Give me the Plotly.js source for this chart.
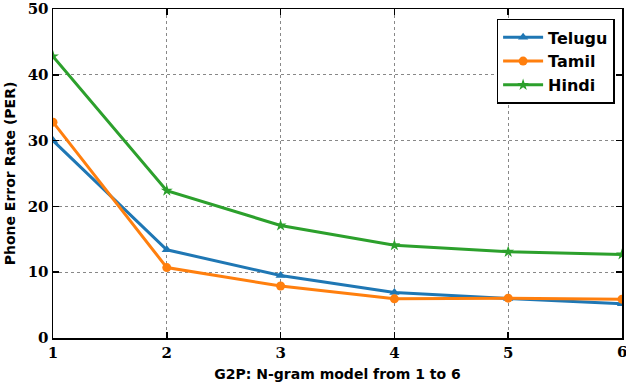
<!DOCTYPE html>
<html>
<head>
<meta charset="utf-8">
<script src="https://cdn.plot.ly/plotly-3.0.1.min.js"></script>
<style>
  body { margin: 0; background: #fff; }
  #chart { width: 626px; height: 382px; }
</style>
</head>
<body>
<div id="chart"></div>
<script>
const ngram = [1, 2, 3, 4, 5, 6];
const telugu = [30.0, 13.4, 9.5, 6.9, 6.0, 5.2];
const tamil = [32.8, 10.7, 7.9, 5.95, 6.05, 5.9];
const hindi = [42.8, 22.4, 17.1, 14.1, 13.1, 12.7];

function series(name, ys, color, symbol) {
    return {
        x: ngram, y: ys, name: name, mode: 'lines+markers',
        line: {color: color, width: 3},
        marker: {symbol: symbol, size: 9, color: color}
    };
}

const traces = [
    series('Telugu', telugu, '#1f77b4', 'triangle-up'),
    series('Tamil', tamil, '#ff7f0e', 'circle'),
    series('Hindi', hindi, '#2ca02c', 'star')
];

const tickFont = {family: 'DejaVu Serif', size: 15, color: '#000', weight: 'bold'};
const titleFont = {family: 'DejaVu Sans', size: 14, color: '#000', weight: 'bold'};

const axisBase = {
    showline: true, mirror: 'ticks', linecolor: '#000', linewidth: 1.5,
    ticks: 'inside', ticklen: 6, tickcolor: '#000', tickwidth: 1.5,
    showgrid: true, gridcolor: '#888', griddash: '3px,3px', gridwidth: 1,
    zeroline: false,
    tickfont: tickFont
};

const last = ngram.length - 1;

const layout = {
    width: 626, height: 382,
    margin: {l: 53, r: 4, t: 9, b: 44},
    paper_bgcolor: '#fff', plot_bgcolor: '#fff',
    showlegend: true,
    legend: {
        x: 0.987, y: 0.97, xanchor: 'right', yanchor: 'top',
        bordercolor: '#000', borderwidth: 1.5, bgcolor: '#fff',
        font: {family: 'DejaVu Sans', size: 16, color: '#000', weight: 'bold'},
        itemwidth: 40
    },
    xaxis: Object.assign({}, axisBase, {
        range: [1, 6], dtick: 1,
        title: {text: 'G2P: N-gram model from 1 to 6', standoff: 8, font: titleFont}
    }),
    yaxis: Object.assign({}, axisBase, {
        range: [0, 50], dtick: 10,
        title: {text: 'Phone Error Rate (PER)', standoff: 8, font: titleFont}
    }),
    annotations: [{
        x: ngram[last], y: 0, xref: 'x', yref: 'y',
        text: String(ngram[last]), showarrow: false,
        yanchor: 'top', yshift: -3, font: tickFont
    }]
};

Plotly.newPlot('chart', traces, layout, {displayModeBar: false, staticPlot: true});
</script>
</body>
</html>
